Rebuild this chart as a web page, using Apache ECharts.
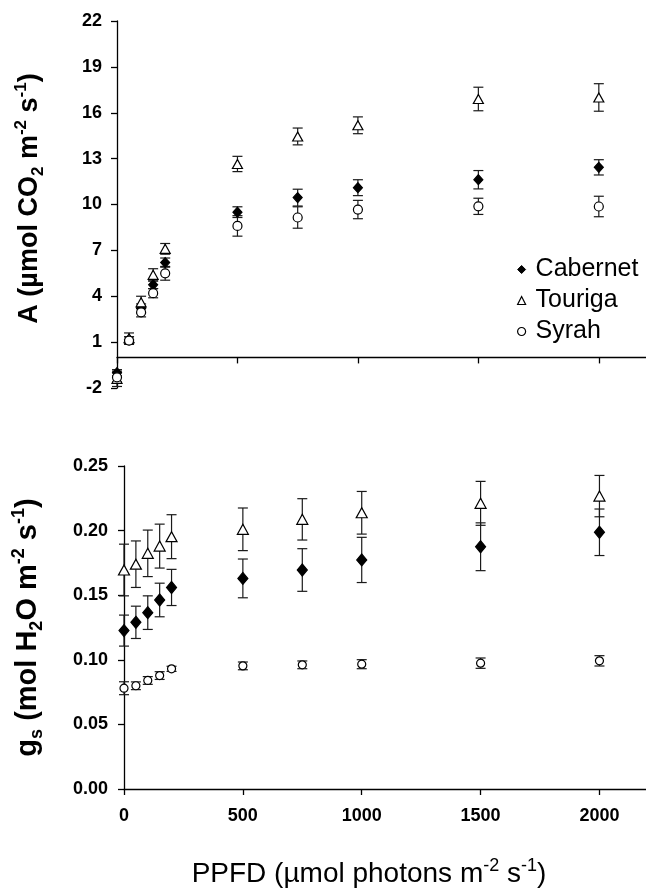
<!DOCTYPE html>
<html>
<head>
<meta charset="utf-8">
<script src="https://cdn.jsdelivr.net/npm/echarts@6/dist/echarts.min.js"></script>
<style>
    html, body { margin: 0; padding: 0; background: #fff; }
    #chart { width: 646px; height: 890px; }
</style>
</head>
<body>
<div id="chart"></div>
<script>
    // PPFD levels (µmol photons m-2 s-1)
    const ppfd = [0, 50, 100, 150, 200, 500, 750, 1000, 1500, 2000];

    // net assimilation A, mean and error
    const aCabernet = [-1.0, 1.15, 3.2, 4.75, 6.2, 9.5, 10.45, 11.1, 11.62, 12.43];
    const aCabernetErr = [0.2, 0.2, 0.3, 0.25, 0.3, 0.35, 0.55, 0.52, 0.6, 0.5];
    const aTouriga = [-1.4, 1.25, 3.6, 5.4, 7.1, 12.65, 14.45, 15.18, 16.9, 17.0];
    const aTourigaErr = [0.5, 0.35, 0.4, 0.4, 0.35, 0.5, 0.55, 0.55, 0.77, 0.9];
    const aSyrah = [-1.3, 1.1, 2.95, 4.2, 5.5, 8.6, 9.15, 9.67, 9.88, 9.87];
    const aSyrahErr = [0.3, 0.25, 0.3, 0.3, 0.45, 0.67, 0.7, 0.6, 0.53, 0.67];

    // stomatal conductance gs, mean and error
    const gsCabernet = [0.1226, 0.129, 0.1365, 0.1463, 0.156, 0.163, 0.1695, 0.1773, 0.1875, 0.1987];
    const gsCabernetErr = [0.012, 0.0125, 0.013, 0.013, 0.014, 0.015, 0.0165, 0.0175, 0.0185, 0.018];
    const gsTouriga = [0.1695, 0.174, 0.1824, 0.188, 0.1953, 0.201, 0.2087, 0.2138, 0.2211, 0.2267];
    const gsTourigaErr = [0.02, 0.018, 0.018, 0.017, 0.017, 0.0165, 0.016, 0.0165, 0.017, 0.016];
    const gsSyrah = [0.078, 0.0799, 0.084, 0.0878, 0.093, 0.0953, 0.0961, 0.0966, 0.0974, 0.0992];
    const gsSyrahErr = [0.005, 0.003, 0.003, 0.003, 0.002, 0.003, 0.003, 0.0035, 0.004, 0.004];

    // tick labels
    const aTicks = [-2, 1, 4, 7, 10, 13, 16, 19, 22];
    const gsTicks = [0, 0.05, 0.1, 0.15, 0.2, 0.25];
    const ppfdTicks = [0, 500, 1000, 1500, 2000];

    const font = 'Arial, "Liberation Sans", sans-serif';
    const ink = '#000';

    const cultivars = [
        { name: 'Cabernet', symbol: 'diamond', fill: '#000', size: [[9, 10], [10, 12]] },
        { name: 'Touriga', symbol: 'triangle', fill: '#fff', size: [[10, 9], [11, 10]] },
        { name: 'Syrah', symbol: 'circle', fill: '#fff', size: [[9, 9], [8, 8]] }
    ];
    const aData = [[aCabernet, aCabernetErr], [aTouriga, aTourigaErr], [aSyrah, aSyrahErr]];
    const gsData = [[gsCabernet, gsCabernetErr], [gsTouriga, gsTourigaErr], [gsSyrah, gsSyrahErr]];

    function errorBars (idx, ys, err) {
        return {
            type: 'custom',
            xAxisIndex: idx,
            yAxisIndex: idx,
            silent: true,
            z: 2,
            encode: { x: 0, y: [1, 2] },
            data: ppfd.map((x, i) => [x, ys[i] - err[i], ys[i] + err[i]]),
            renderItem: function (params, api) {
                const lo = api.coord([api.value(0), api.value(1)]);
                const hi = api.coord([api.value(0), api.value(2)]);
                const w = 5;
                const style = { stroke: '#1a1a1a', lineWidth: 1.2 };
                return {
                    type: 'group',
                    children: [
                        { type: 'line', shape: { x1: lo[0], y1: lo[1], x2: hi[0], y2: hi[1] }, style: style },
                        { type: 'line', shape: { x1: lo[0] - w, y1: lo[1], x2: lo[0] + w, y2: lo[1] }, style: style },
                        { type: 'line', shape: { x1: hi[0] - w, y1: hi[1], x2: hi[0] + w, y2: hi[1] }, style: style }
                    ]
                };
            }
        };
    }

    function points (idx, c, ys) {
        return {
            name: c.name,
            type: 'scatter',
            xAxisIndex: idx,
            yAxisIndex: idx,
            z: 3,
            symbol: c.symbol,
            symbolSize: c.size[idx],
            itemStyle: { color: c.fill, borderColor: ink, borderWidth: 1.2, opacity: 1 },
            data: ppfd.map((x, i) => [x, ys[i]])
        };
    }

    const series = [];
    cultivars.forEach((c, k) => {
        series.push(errorBars(0, aData[k][0], aData[k][1]));
        series.push(errorBars(1, gsData[k][0], gsData[k][1]));
    });
    cultivars.forEach((c, k) => {
        series.push(points(0, c, aData[k][0]));
        series.push(points(1, c, gsData[k][0]));
    });

    const tickLabel = { color: ink, fontFamily: font, fontWeight: 'bold', fontSize: 18 };
    const nameRich = {
        b: { fontFamily: font, fontWeight: 'bold', fontSize: 27, lineHeight: 34, color: ink },
        sub: { fontFamily: font, fontWeight: 'bold', fontSize: 17, lineHeight: 17, verticalAlign: 'bottom', color: ink },
        sup: { fontFamily: font, fontWeight: 'bold', fontSize: 17, lineHeight: 17, verticalAlign: 'top', color: ink },
        g: { fontFamily: font, fontWeight: 'bold', fontSize: 29, lineHeight: 36, color: ink },
        gsub: { fontFamily: font, fontWeight: 'bold', fontSize: 18, lineHeight: 18, verticalAlign: 'bottom', color: ink },
        gsup: { fontFamily: font, fontWeight: 'bold', fontSize: 18, lineHeight: 18, verticalAlign: 'top', color: ink },
        n: { fontFamily: font, fontSize: 28, lineHeight: 34, color: ink },
        nsup: { fontFamily: font, fontSize: 18, lineHeight: 18, verticalAlign: 'top', color: ink }
    };
    const axisLine = { show: true, lineStyle: { color: ink, width: 1.3 } };
    const axisTick = { show: true, inside: false, length: 6, lineStyle: { color: ink, width: 1.3 } };

    const chart = echarts.init(document.getElementById('chart'), null, { renderer: 'canvas' });
    chart.setOption({
        animation: false,
        backgroundColor: '#fff',
        grid: [
            { left: 117, right: -1, top: 21, bottom: 502, outerBoundsMode: 'none' },
            { left: 124, right: -1, top: 466, bottom: 101, outerBoundsMode: 'none' }
        ],
        legend: {
            orient: 'vertical',
            left: 512,
            top: 252,
            itemWidth: 8,
            itemHeight: 8,
            itemGap: 6,
            textStyle: { fontFamily: font, fontSize: 25, color: ink, padding: [0, 0, 0, 5] },
            data: [
                { name: 'Cabernet', icon: 'diamond', itemStyle: { color: '#000', borderColor: ink, borderWidth: 1 } },
                { name: 'Touriga', icon: 'triangle', itemStyle: { color: '#fff', borderColor: ink, borderWidth: 1.2 } },
                { name: 'Syrah', icon: 'circle', itemStyle: { color: '#fff', borderColor: ink, borderWidth: 1.2 } }
            ]
        },
        xAxis: [
            {
                type: 'value', gridIndex: 0, min: 0, max: 2200,
                axisLine: Object.assign({ onZero: true }, axisLine),
                axisTick: Object.assign({ customValues: ppfdTicks }, axisTick),
                axisLabel: { show: false },
                splitLine: { show: false }
            },
            {
                type: 'value', gridIndex: 1, min: 0, max: 2200,
                axisLine: axisLine,
                axisTick: Object.assign({ customValues: ppfdTicks }, axisTick),
                axisLabel: Object.assign({ customValues: ppfdTicks, margin: 18, formatter: v => String(v) }, tickLabel),
                splitLine: { show: false },
                name: '{n|PPFD (µmol photons m}{nsup|-2}{n| s}{nsup|-1}{n|)}',
                nameLocation: 'middle',
                nameGap: 68,
                nameTextStyle: { rich: nameRich, padding: [0, 33, 0, 0] }
            }
        ],
        yAxis: [
            {
                type: 'value', gridIndex: 0, min: -2, max: 22,
                axisLine: axisLine,
                axisTick: Object.assign({ customValues: aTicks }, axisTick),
                axisLabel: Object.assign({ customValues: aTicks, margin: 15 }, tickLabel),
                splitLine: { show: false },
                name: '{b|A (µmol CO}{sub|2}{b| m}{sup|-2}{b| s}{sup|-1}{b|)}',
                nameLocation: 'middle',
                nameGap: 70,
                nameTextStyle: { rich: nameRich, padding: [0, 0, 0, 12] }
            },
            {
                type: 'value', gridIndex: 1, min: 0, max: 0.25,
                axisLine: axisLine,
                axisTick: Object.assign({ customValues: gsTicks }, axisTick),
                axisLabel: Object.assign({
                    customValues: gsTicks, margin: 16,
                    formatter: v => v.toFixed(2)
                }, tickLabel),
                splitLine: { show: false },
                name: '{g|g}{gsub|s}{g| (mol H}{gsub|2}{g|O m}{gsup|-2}{g| s}{gsup|-1}{g|)}',
                nameLocation: 'middle',
                nameGap: 78,
                nameTextStyle: { rich: nameRich, padding: [0, 0, 0, 0] }
            }
        ],
        series: series
    });
</script>
</body>
</html>
